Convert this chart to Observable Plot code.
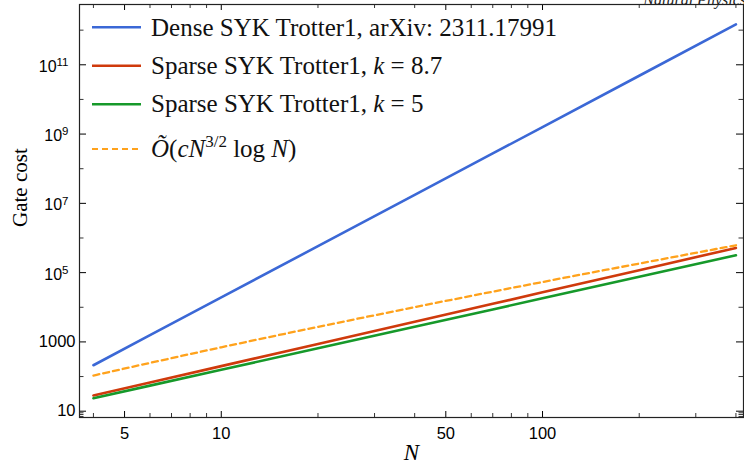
<!DOCTYPE html>
<html><head><meta charset="utf-8">
<script src="https://cdn.jsdelivr.net/npm/d3@7"></script>
<script src="https://cdn.jsdelivr.net/npm/@observablehq/plot@0.6"></script>
<style>body{margin:0;background:#fff} svg{display:block;background:#fff}</style>
</head><body><div id="chart"></div>
<script>
// ---- data ----
const N = [4, 6, 10, 20, 40, 70, 100, 200, 400];
const denseSYK = [212, 1562, 19250, 5.82e5, 1.76e7, 2.76e8, 1.59e9, 4.82e10, 1.46e12];
const sparseK87 = [28.4, 67.3, 200, 875, 3830, 12600, 26960, 1.18e5, 5.16e5];
const sparseK5 = [23.7, 54.7, 157, 655, 2736, 8675, 18100, 75550, 3.16e5];
const scaling = [107, 248, 700, 2720, 10090, 28250, 53700, 1.83e5, 6.17e5];

const xMajor = [5, 10, 50, 100];
const xLabels = ["5", "10", "50", "100"];
const xMinor = [4, 6, 7, 8, 9, 20, 30, 40, 60, 70, 80, 90, 200, 300, 400];
const yPlain = [10, 1000];
const yPlainLabels = ["10", "1000"];
const yExp = [1e5, 1e7, 1e9, 1e11];
const yExpLabels = ["10^5", "10^7", "10^9", "10^11"];
const yMinor = [7, 8, 9, 100, 1e4, 1e6, 1e8, 1e10, 1e12];

const seriesNames = ["Dense SYK Trotter1, arXiv: 2311.17991", "Sparse SYK Trotter1, k = 8.7", "Sparse SYK Trotter1, k = 5", "O(cN^{3/2} log N)"];
const colors = ["#3b68d6", "#cf3a0c", "#16992a", "#ffa21c"];

// ---- layout ----
const W = 744, H = 472;
const mL = 79, mR = 1, mT = 4, mB = 55;
const innerW = W - mL - mR, innerH = H - mT - mB;
const serif = "'Liberation Serif', 'Times New Roman', serif";
const sans = "'Liberation Sans', Arial, sans-serif";

const toRows = (vals) => N.map((n, i) => ({N: n, v: vals[i]}));

const lineOpts = {x: "N", y: "v", strokeWidth: 2.6, strokeLinejoin: "round"};
const tickMaj = 6, tickMin = 4, ytickMaj = 7, ytickMin = 4.5;

const chart = Plot.plot({
  width: W, height: H,
  marginLeft: mL, marginRight: mR, marginTop: mT, marginBottom: mB,
  style: {background: "#fff", overflow: "visible"},
  x: {type: "log", domain: [3.62, 422.3], axis: null},
  y: {type: "log", domain: [6.58, 5.5e12], axis: null},
  marks: [
    Plot.line(toRows(denseSYK), {...lineOpts, stroke: colors[0]}),
    Plot.line(toRows(sparseK87), {...lineOpts, stroke: colors[1]}),
    Plot.line(toRows(sparseK5), {...lineOpts, stroke: colors[2]}),
    Plot.line(toRows(scaling), {...lineOpts, stroke: colors[3], strokeDasharray: "6,4", curve: "monotone-x", strokeWidth: 2.3}),
    // inward ticks: bottom, top
    Plot.tickX(xMajor, {x: d => d, insetTop: innerH - tickMaj, stroke: "#000", strokeWidth: 1}),
    Plot.tickX(xMinor, {x: d => d, insetTop: innerH - tickMin, stroke: "#000", strokeWidth: 0.8}),
    Plot.tickX(xMajor, {x: d => d, insetBottom: innerH - tickMaj, stroke: "#000", strokeWidth: 1}),
    Plot.tickX(xMinor, {x: d => d, insetBottom: innerH - tickMin, stroke: "#000", strokeWidth: 0.8}),
    // inward ticks: left, right
    Plot.tickY([...yPlain, ...yExp], {y: d => d, insetRight: innerW - ytickMaj, stroke: "#000", strokeWidth: 1}),
    Plot.tickY(yMinor, {y: d => d, insetRight: innerW - ytickMin, stroke: "#000", strokeWidth: 0.8}),
    Plot.tickY([...yPlain, ...yExp], {y: d => d, insetLeft: innerW - ytickMaj, stroke: "#000", strokeWidth: 1}),
    Plot.tickY(yMinor, {y: d => d, insetLeft: innerW - ytickMin, stroke: "#000", strokeWidth: 0.8}),
    Plot.frame({stroke: "#222", strokeWidth: 1.2}),
    // tick labels
    Plot.text(xMajor, {x: d => d, text: (d, i) => xLabels[i], frameAnchor: "bottom", dy: 16, fontSize: 16.5, fontFamily: sans, fill: "#000", lineAnchor: "middle"}),
    Plot.text(yPlain, {y: d => d, text: (d, i) => yPlainLabels[i], frameAnchor: "left", textAnchor: "end", dx: -4, fontSize: 16.5, fontFamily: sans, fill: "#000"}),
    Plot.text(yExp, {y: d => d, text: (d, i) => yExpLabels[i], frameAnchor: "left", textAnchor: "end", dx: -11, dy: 2, fontSize: 16, fontFamily: sans, fill: "#000", className: "yexp"}),
    // axis titles
    Plot.text(["N"], {text: d => d, frameAnchor: "bottom", dy: 42, fontSize: 23, fontFamily: serif, fontStyle: "italic", fill: "#000"}),
    Plot.text(["Gate cost"], {text: d => d, frameAnchor: "left", dx: -59, dy: 16, rotate: -90, fontSize: 21, fontFamily: serif, fill: "#000"})
  ]
});

document.getElementById("chart").appendChild(chart);
const svg = d3.select(chart);

// superscripts for exponent labels
svg.selectAll(".yexp text").each(function () {
  const t = this.textContent;
  const [base, ex] = t.split("^");
  const el = d3.select(this);
  el.text(null);
  el.append("tspan").text(base);
  el.append("tspan").attr("dy", "-0.5em").attr("font-size", 11.5).text(ex);
});

// legend (inside the frame, top-left)
const leg = svg.append("g").attr("font-family", serif).attr("font-size", 25).attr("fill", "#111").attr("text-anchor", "start");
const legY = [27.3, 65.7, 104.3, 149];
const legBase = [35.5, 73.8, 112.2, 157];
legY.forEach((y, i) => {
  leg.append("line").attr("x1", 92).attr("x2", 141).attr("y1", y).attr("y2", y)
    .attr("stroke", colors[i]).attr("stroke-width", i === 3 ? 2.2 : 2.6)
    .attr("stroke-dasharray", i === 3 ? "6,4" : null);
});
leg.append("text").attr("x", 151).attr("y", legBase[0]).text(seriesNames[0]);
[1, 2].forEach(i => {
  const t = leg.append("text").attr("x", 151).attr("y", legBase[i]).attr("xml:space", "preserve");
  const parts = seriesNames[i].split("k");
  t.append("tspan").text(parts[0]);
  t.append("tspan").attr("font-style", "italic").text("k");
  t.append("tspan").text(parts[1].replace(" = ", "\u2005=\u2005"));
});
{
  const t = leg.append("text").attr("x", 151).attr("y", legBase[3]);
  t.append("tspan").attr("font-style", "italic").text("Õ");
  t.append("tspan").text("(");
  t.append("tspan").attr("font-style", "italic").text("cN");
  t.append("tspan").attr("dy", -10).attr("font-size", 17).text("3/2");
  t.append("tspan").attr("dy", 10).text(" log ");
  t.append("tspan").attr("font-style", "italic").text("N");
  t.append("tspan").text(")");
}
// clipped journal text at top-right
svg.append("text").attr("x", 746).attr("y", 5).attr("text-anchor", "end")
  .attr("font-family", serif).attr("font-style", "italic").attr("font-size", 16).attr("fill", "#222")
  .text("Natural Physics");
</script>
</body></html>
